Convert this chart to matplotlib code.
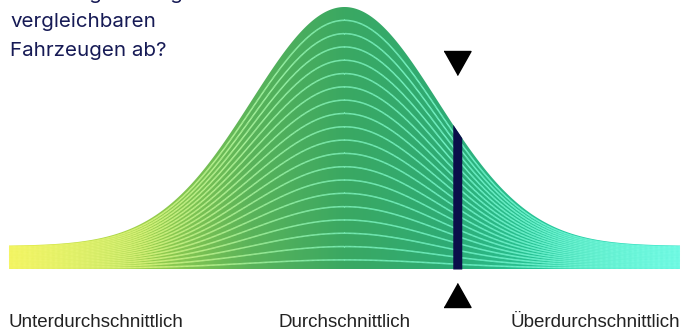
import numpy as np
import matplotlib
matplotlib.use("Agg")
import matplotlib.pyplot as plt
from matplotlib.colors import LinearSegmentedColormap
from matplotlib.patches import PathPatch
from matplotlib.path import Path
from matplotlib.collections import LineCollection

# ---- data ----
title_lines = ["Fahrzeug im Vergleich zu", "vergleichbaren", "Fahrzeugen ab?"]
category_labels = ["Unterdurchschnittlich", "Durchschnittlich", "Überdurchschnittlich"]
x_min, x_max = -3.6, 3.6          # range of the distribution (in sigma)
mean, sigma = 0.0, 1.0
edge_level = 0.088                # relative height of the curve far from the mean
vehicle_value = 1.21              # position of the own vehicle
n_lines = 19
line_step = 0.0508

W, H, DPI = 689, 331, 100
fig = plt.figure(figsize=(W / DPI, H / DPI), dpi=DPI)
ax = fig.add_axes([0, 0, 1, 1])
ax.set_axis_off()

# pixel mapping (layout)
px_per_unit = 671 / (x_max - x_min)
cx = 9 + (0 - x_min) * px_per_unit
base_px, peak_px = 269, 262
ax.set_xlim((0 - cx) / px_per_unit, (W - cx) / px_per_unit)
ax.set_ylim((base_px - H) / peak_px, base_px / peak_px)


def top_curve(x):
    g = np.exp(-0.5 * ((x - mean) / sigma) ** 2)
    return edge_level + (1 - edge_level) * g


xs = np.linspace(x_min, x_max, 800)
ys = top_curve(xs)

cmap = LinearSegmentedColormap.from_list(
    "bell",
    [(0.0, "#dfe82c"), (0.18, "#a3d34a"), (0.36, "#5ab35a"), (0.5, "#3aa862"),
     (0.66, "#2eac76"), (0.82, "#26c99e"), (1.0, "#22e2c2")])
line_cmap = LinearSegmentedColormap.from_list(
    "bell_lines",
    [(0.0, "#f8f870"), (0.2, "#dcf57e"), (0.38, "#a0f2a0"), (0.5, "#7ef2bc"),
     (0.7, "#70f4ca"), (1.0, "#80ffea")])

grad = np.linspace(0, 1, 512).reshape(1, -1)
im = ax.imshow(grad, cmap=cmap, aspect="auto",
               extent=[x_min, x_max, 0, 1.0], origin="lower", zorder=1,
               interpolation="bilinear")
verts = np.vstack([np.column_stack([xs, ys]), [[x_max, 0], [x_min, 0], [xs[0], ys[0]]]])
clip = PathPatch(Path(verts, closed=True), transform=ax.transData,
                 facecolor="none", edgecolor="none")
ax.add_patch(clip)
im.set_clip_path(clip)

tnorm = (xs - x_min) / (x_max - x_min)
for j in range(1, n_lines + 1):
    f = 1 - j * line_step
    pts = np.column_stack([xs, ys * f]).reshape(-1, 1, 2)
    segs = np.concatenate([pts[:-1], pts[1:]], axis=1)
    lc = LineCollection(segs, colors=line_cmap(tnorm[:-1]), linewidths=1.1,
                        alpha=1.0, zorder=2, capstyle="butt")
    ax.add_collection(lc)

# vehicle bar
bw = 9 / px_per_unit
bx = np.linspace(vehicle_value - bw / 2, vehicle_value + bw / 2, 20)
ax.fill_between(bx, 0, top_curve(bx), color="#0b0f4a", lw=0, zorder=3)

# triangles
tri_down = [(-1, 0.889), (1, 0.889), (0, -0.889)]
tri_up = [(-1, -0.889), (1, -0.889), (0, 0.889)]
ms = 27 * 72 / DPI
ax.plot([vehicle_value], [(base_px - 62.5) / peak_px], marker=tri_down,
        markersize=ms, color="black", lw=0, clip_on=False, zorder=4)
ax.plot([vehicle_value], [(base_px - 295) / peak_px], marker=tri_up,
        markersize=ms, color="black", lw=0, clip_on=False, zorder=4)

# title
title_baselines = [-1.5, 27, 56]
for t, b in zip(title_lines, title_baselines):
    fig.text(10 / W, 1 - b / H, t, fontsize=14.8, family="Inter",
             color="#161a55", va="baseline", ha="left")

# category labels
lab_kw = dict(fontsize=13.5, family="Liberation Sans", color="#222222",
              va="baseline")
fig.text(9 / W, 1 - 327 / H, category_labels[0], ha="left", **lab_kw)
ax.text(mean, (base_px - 327) / peak_px, category_labels[1], ha="center",
        **lab_kw)
fig.text(680 / W, 1 - 327 / H, category_labels[2], ha="right", **lab_kw)

fig.savefig("out.png", dpi=DPI)
